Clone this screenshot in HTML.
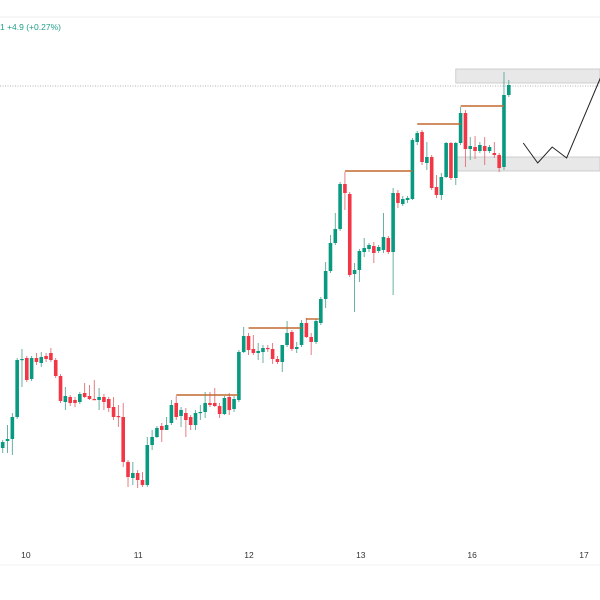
<!DOCTYPE html>
<html><head><meta charset="utf-8"><style>
html,body{margin:0;padding:0;background:#fff;width:600px;height:600px;overflow:hidden}
svg{display:block;font-family:"Liberation Sans",sans-serif}
</style></head><body>
<svg id="chart" width="600" height="600" viewBox="0 0 600 600">
<line x1="0" y1="17" x2="600" y2="17" stroke="#eeeeee" stroke-width="1"/>
<text x="0" y="30" font-size="8.5" fill="#22a08a">1   +4.9 (+0.27%)</text>
<line x1="0" y1="565" x2="600" y2="565" stroke="#f0f0f0" stroke-width="1"/>
<g id="layer"></g>
</svg>
<script>
const opens =[152,159,161,183,240,242,221,242,237,244,247,240,224,198,203,200,198,207,204,201,200,203,201,193,184,183,138,122,127,120,115,155,163,174,170,177,197,184,187,183,175,187,188,197,197,194,186,203,191,200,248,264,251,247,248,252,251,241,238,255,268,251,255,277,263,258,277,301,329,357,371,416,406,326,330,348,351,354,349,350,362,348,407,396,400,401,458,468,437,443,413,405,423,457,422,457,487,451,453,449,454,449,447,445,433,505];
const highs =[160,175,187,242,251,244,244,247,248,247,252,242,226,213,205,203,208,217,215,220,212,206,203,203,195,197,140,138,130,128,163,170,174,177,183,200,204,193,192,185,190,195,208,208,212,197,204,207,204,250,273,267,265,257,255,255,257,244,255,279,270,258,280,282,267,281,303,338,365,387,418,428,408,337,351,362,357,358,355,387,364,412,410,404,404,462,469,470,458,445,425,427,458,458,458,493,490,463,464,458,463,455,458,447,528,520];
const lows  =[147,147,145,181,213,218,219,235,233,238,238,222,197,190,194,193,196,202,200,200,190,190,188,180,173,133,113,115,112,113,113,150,162,158,170,175,180,173,163,170,170,180,182,193,193,182,185,185,188,198,247,245,245,240,237,248,236,236,228,253,249,247,253,262,245,256,275,292,327,355,369,390,323,288,318,343,348,337,347,347,346,305,392,394,397,400,455,435,430,410,402,400,422,420,415,455,433,440,441,447,435,447,442,428,430,503];
const closes=[158,161,183,240,241,220,242,238,243,241,240,224,199,204,197,197,206,203,201,200,203,198,192,183,183,138,123,127,120,115,155,163,172,170,175,195,183,190,180,175,187,188,197,195,194,186,202,190,201,248,264,250,247,249,252,251,241,238,255,267,251,253,277,263,258,279,301,329,357,371,416,407,325,330,349,352,355,347,353,363,348,407,397,401,402,460,467,438,443,412,405,423,457,422,457,487,451,454,449,455,449,453,445,432,505,515];
const dayLabels=["10","11","12","13","16","17"];
const dayPos=[4.8,28.1,51.1,74.3,97.4,120.6];
const resLevels=[205,272,281,429,476,494];
const resStart=[36,51,62.9,71,86,95];
const resEnd=[48.8,62,65.6,85,95,104];
const zoneTop=[531,443];
const zoneBottom=[517,429];
const zoneStartIdx=[94,94];
const currentPrice=514;
const pathIdx=[108,111,114,117,124];
const pathPrice=[457,437,453,442,522];

const NS="http://www.w3.org/2000/svg";
const xScale=i=>2.7+i*4.82;
const yScale=p=>600-p;
const layer=document.getElementById('layer');
function mk(tag,attrs){const e=document.createElementNS(NS,tag);for(const k in attrs)e.setAttribute(k,attrs[k]);return e;}

// zones
for(let i=0;i<zoneTop.length;i++){
  const r=mk('rect',{x:xScale(zoneStartIdx[i]),y:yScale(zoneTop[i]),width:600-xScale(zoneStartIdx[i]),height:yScale(zoneBottom[i])-yScale(zoneTop[i]),fill:'#e8e8e8',stroke:'#c4c4c4','stroke-width':0.8});
  
  
  layer.appendChild(r);
}
// current price dotted
const cp=mk('line',{x1:0,x2:600,y1:yScale(currentPrice),y2:yScale(currentPrice),stroke:'#9a9a9a','stroke-width':0.8,'stroke-dasharray':'1,1.5'});


layer.appendChild(cp);
// candles
for(let i=0;i<opens.length;i++){
  const up=closes[i]>=opens[i];
  const col=up?'#089981':'#f23645';
  const g=mk('g',{});
  
  
  const x=xScale(i);
  g.appendChild(mk('line',{x1:x,x2:x,y1:yScale(highs[i]),y2:yScale(lows[i]),stroke:up?'#5aa896':'#e0707a','stroke-width':0.9}));
  const t=yScale(Math.max(opens[i],closes[i])),b=yScale(Math.min(opens[i],closes[i]));
  g.appendChild(mk('rect',{x:x-1.8,y:t,width:3.6,height:Math.max(1.2,b-t),fill:col}));
  layer.appendChild(g);
}
// resistance lines
for(let i=0;i<resLevels.length;i++){
  const l=mk('line',{x1:xScale(resStart[i]),x2:xScale(resEnd[i]),y1:yScale(resLevels[i]),y2:yScale(resLevels[i]),stroke:'#c0682f','stroke-width':1.4});
  
  
  layer.appendChild(l);
}
// projection path
let d='';
for(let i=0;i<pathIdx.length;i++){d+=(i?'L':'M')+xScale(pathIdx[i])+','+yScale(pathPrice[i]);}
const pp=mk('path',{d:d,fill:'none',stroke:'#222','stroke-width':1});


layer.appendChild(pp);
// day labels
for(let i=0;i<dayLabels.length;i++){
  const t=mk('text',{x:xScale(dayPos[i]),y:558,'font-size':8.5,fill:'#333','text-anchor':'middle'});
  t.textContent=dayLabels[i];
  
  
  layer.appendChild(t);
}
</script>
</body></html>
